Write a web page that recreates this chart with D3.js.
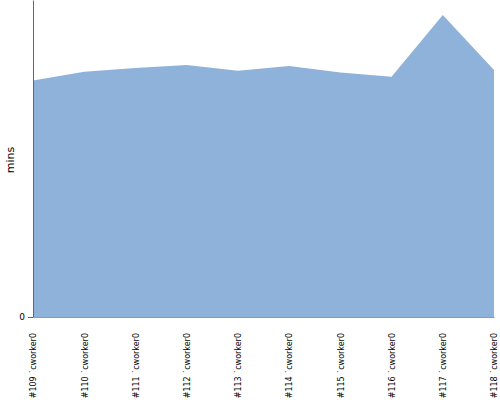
<!DOCTYPE html>
<html>
<head>
<meta charset="utf-8">
<script src="https://cdn.jsdelivr.net/npm/d3@7"></script>
<style>
  body { margin: 0; background: #fff; }
  svg { display: block; }
</style>
</head>
<body>
<div id="chart"></div>
<script>
// build labels and run times (mins)
var builds = ["#109 \u02d9cworker0", "#110 \u02d9cworker0", "#111 \u02d9cworker0", "#112 \u02d9cworker0",
              "#113 \u02d9cworker0", "#114 \u02d9cworker0", "#115 \u02d9cworker0", "#116 \u02d9cworker0",
              "#117 \u02d9cworker0", "#118 \u02d9cworker0"];
var durations = [15.66, 16.25, 16.49, 16.69, 16.32, 16.62, 16.19, 15.91, 20.0, 16.36];
var yTicks = [0];

var margin = {top: 0, right: 6, bottom: 83, left: 33},
    width = 500 - margin.left - margin.right,
    height = 400 - margin.top - margin.bottom;

var data = builds.map(function (b, i) {
    return {build: b, value: durations[i]};
});

var xScale = d3.scalePoint()
    .domain(builds)
    .range([0, width]);

var yScale = d3.scaleLinear()
    .domain([0, 21])
    .range([height, 0]);

var svg = d3.select("#chart").append("svg")
    .attr("width", width + margin.left + margin.right)
    .attr("height", height + margin.top + margin.bottom)
    .append("g")
    .attr("transform", "translate(" + margin.left + "," + margin.top + ")");

var area = d3.area()
    .x(function (d) { return xScale(d.build); })
    .y0(height)
    .y1(function (d) { return yScale(d.value); });

svg.append("path")
    .datum(data)
    .attr("fill", "#8fb2da")
    .attr("d", area);

// x axis
var xAxis = svg.append("g")
    .attr("transform", "translate(0," + height + ")")
    .call(d3.axisBottom(xScale).tickSize(0).tickPadding(0));
xAxis.select(".domain").attr("stroke", "#999");
xAxis.selectAll("text")
    .style("font-family", "DejaVu Sans, sans-serif")
    .style("font-size", "8px")
    .attr("fill", "#000")
    .style("text-anchor", "end")
    .attr("dx", "-16px")
    .attr("dy", "0.35em")
    .attr("y", 0)
    .attr("transform", "rotate(-90)");

// y axis
var yAxis = svg.append("g")
    .call(d3.axisLeft(yScale).tickValues(yTicks).tickSizeInner(5).tickSizeOuter(0).tickPadding(3));
yAxis.select(".domain").attr("stroke", "#666");
yAxis.selectAll(".tick line").attr("stroke", "#666");
yAxis.selectAll("text")
    .style("font-family", "DejaVu Sans, sans-serif")
    .style("font-size", "9px")
    .attr("fill", "#000");

svg.append("text")
    .attr("transform", "rotate(-90)")
    .attr("x", -160)
    .attr("y", -19)
    .style("text-anchor", "middle")
    .style("font-family", "DejaVu Sans, sans-serif")
    .style("font-size", "11px")
    .text("mins");
</script>
</body>
</html>
